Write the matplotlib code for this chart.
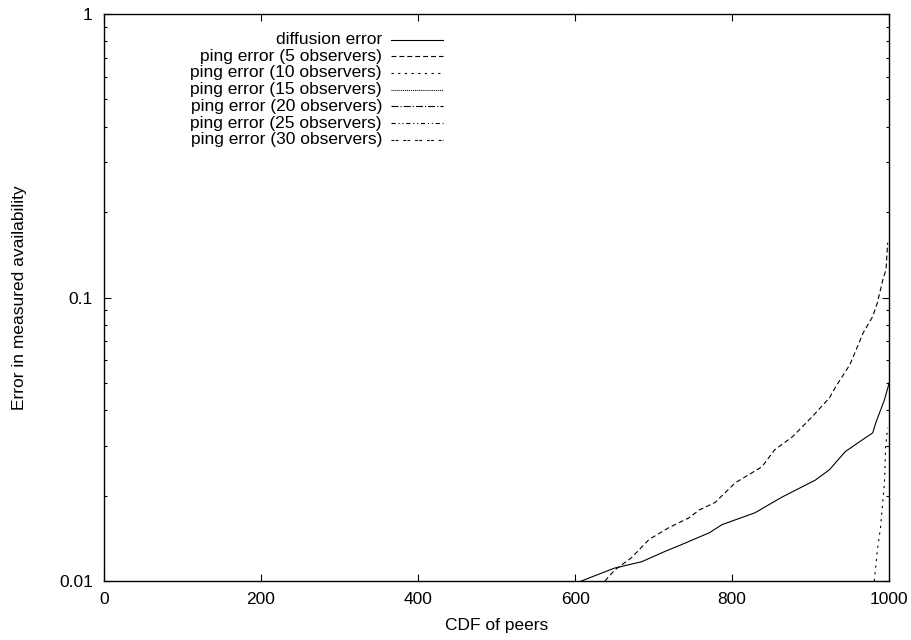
import numpy as np
import matplotlib.pyplot as plt
import matplotlib.ticker as mticker

plt.rcParams['font.family'] = ['Liberation Sans', 'DejaVu Sans']
plt.rcParams['font.size'] = 12.5
plt.rcParams['lines.scale_dashes'] = False

# diffusion error, sorted per peer
diff_x = [608, 650, 685, 714, 740, 771, 787, 829, 847, 864, 906, 924, 944, 966, 979, 983, 994, 1000]
diff_y = [0.0100, 0.0111, 0.0117, 0.0127, 0.0136, 0.0148, 0.0158, 0.0174, 0.0186, 0.0198,
          0.0227, 0.0247, 0.0286, 0.0315, 0.0333, 0.0362, 0.0436, 0.0500]

# ping error, 5 observers
ping5_x = [638, 650, 672, 694, 719, 745, 758, 778, 804, 838, 854, 877, 902, 924, 932, 950,
           967, 979, 985, 992, 996, 998]
ping5_y = [0.0100, 0.0109, 0.0121, 0.0140, 0.0154, 0.0167, 0.0178, 0.0189, 0.0222, 0.0253,
           0.0290, 0.0323, 0.0380, 0.0443, 0.0485, 0.0580, 0.0752, 0.0857, 0.0960, 0.1158,
           0.1256, 0.156]

# ping error, 10 observers
ping10_x = [981, 985, 989, 994, 995.5, 998]
ping10_y = [0.0100, 0.0129, 0.0155, 0.0222, 0.0297, 0.0347]

# ping error, 15..30 observers (never above 0.01)
ping15_x, ping15_y = [], []
ping20_x, ping20_y = [], []
ping25_x, ping25_y = [], []
ping30_x, ping30_y = [], []

labels = ['diffusion error',
          'ping error (5 observers)',
          'ping error (10 observers)',
          'ping error (15 observers)',
          'ping error (20 observers)',
          'ping error (25 observers)',
          'ping error (30 observers)']

series = [(diff_x, diff_y), (ping5_x, ping5_y), (ping10_x, ping10_y), (ping15_x, ping15_y),
          (ping20_x, ping20_y), (ping25_x, ping25_y), (ping30_x, ping30_y)]

dashes = [None, (3.5, 2.2), (1.6, 3.2), (0.7, 0.7), (5, 1.5, 0.8, 1.5),
          (3, 2, 0.8, 2, 0.8, 2), (2, 1, 2, 3.5)]

fig = plt.figure(figsize=(9.12, 6.4), dpi=100)
ax = fig.add_axes([0.114, 0.0922, 0.861, 0.8859])

for (xs, ys), d in zip(series, dashes):
    line, = ax.plot(xs, ys, color='black', lw=0.8)
    if d is not None:
        line.set_dashes(d)

ax.set_yscale('log')
ax.set_xlim(0, 1000)
ax.set_ylim(0.01, 1)
ax.set_xticks([0, 200, 400, 600, 800, 1000])
ax.yaxis.set_major_locator(mticker.FixedLocator([0.01, 0.1, 1]))
ax.yaxis.set_major_formatter(mticker.FuncFormatter(lambda v, p: '%g' % v))
ax.yaxis.set_minor_locator(mticker.LogLocator(base=10, subs=np.arange(2, 10)))
ax.yaxis.set_minor_formatter(mticker.NullFormatter())
ax.tick_params(which='both', direction='in', top=True, right=True, width=0.8)
ax.tick_params(which='major', length=5, pad=8)
ax.tick_params(which='minor', length=2.5)
for s in ax.spines.values():
    s.set_linewidth(1.0)

ax.set_xlabel('CDF of peers', labelpad=8)
ax.set_ylabel('Error in measured availability', labelpad=23)

# key in the top-left corner, text right-aligned with the sample after it
x_txt, x0, x1 = 0.354, 0.366, 0.432
y_top, dy = 0.955, 0.0295
for i, (lab, d) in enumerate(zip(labels, dashes)):
    y = y_top - i * dy
    ax.text(x_txt, y, lab, transform=ax.transAxes, ha='right', va='center')
    key, = ax.plot([x0, x1], [y, y], transform=ax.transAxes, color='black', lw=0.8,
                   clip_on=False)
    if d is not None:
        key.set_dashes(d)

fig.savefig('out.png', dpi=100)
